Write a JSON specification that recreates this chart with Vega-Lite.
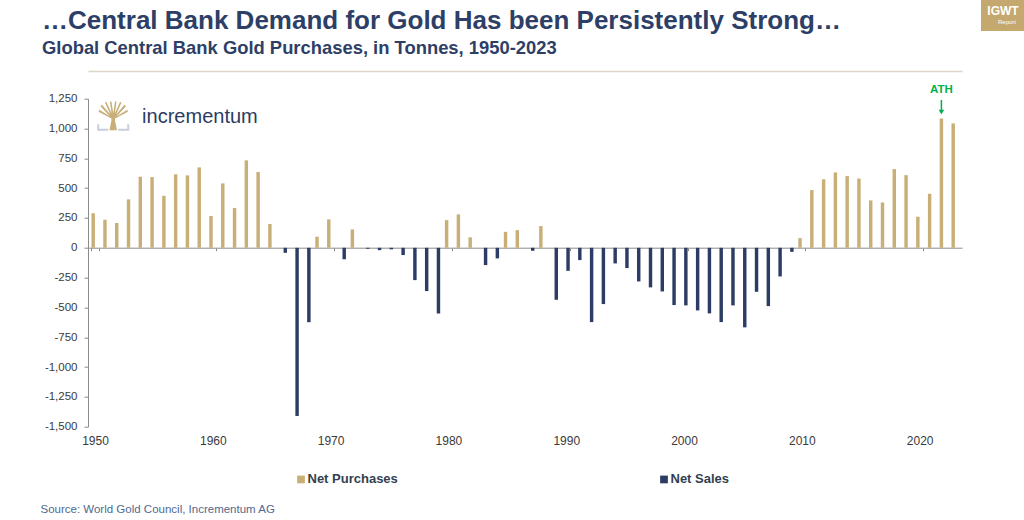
{
  "$schema": "https://vega.github.io/schema/vega-lite/v6.json",
  "width": 874,
  "height": 328,
  "autosize": "none",
  "padding": {"left": 88, "top": 98.7, "right": 62, "bottom": 93.3},
  "background": "white",
  "title": {
    "text": "…Central Bank Demand for Gold Has been Persistently Strong…",
    "subtitle": "Global Central Bank Gold Purchases, in Tonnes, 1950-2023",
    "anchor": "start",
    "frame": "group",
    "dx": -46,
    "dy": 71,
    "offset": 14,
    "font": "Liberation Sans",
    "fontSize": 26,
    "fontWeight": "bold",
    "color": "#2D3F66",
    "subtitleFont": "Liberation Sans",
    "subtitleFontSize": 18.4,
    "subtitleFontWeight": "bold",
    "subtitleColor": "#2D3F66",
    "subtitlePadding": 5
  },
  "config": {"view": {"stroke": null}, "axis": {"grid": false}},
  "datasets": {
    "gold": [
      {"year": 1950, "type": "Net Purchases", "value": 290},
      {"year": 1951, "type": "Net Purchases", "value": 235},
      {"year": 1952, "type": "Net Purchases", "value": 208},
      {"year": 1953, "type": "Net Purchases", "value": 406},
      {"year": 1954, "type": "Net Purchases", "value": 596},
      {"year": 1955, "type": "Net Purchases", "value": 593},
      {"year": 1956, "type": "Net Purchases", "value": 436},
      {"year": 1957, "type": "Net Purchases", "value": 616},
      {"year": 1958, "type": "Net Purchases", "value": 607},
      {"year": 1959, "type": "Net Purchases", "value": 674},
      {"year": 1960, "type": "Net Purchases", "value": 266},
      {"year": 1961, "type": "Net Purchases", "value": 540},
      {"year": 1962, "type": "Net Purchases", "value": 333},
      {"year": 1963, "type": "Net Purchases", "value": 733},
      {"year": 1964, "type": "Net Purchases", "value": 635},
      {"year": 1965, "type": "Net Purchases", "value": 199},
      {"year": 1966, "type": "Net Sales", "value": -42},
      {"year": 1967, "type": "Net Sales", "value": -1410},
      {"year": 1968, "type": "Net Sales", "value": -624},
      {"year": 1969, "type": "Net Purchases", "value": 93},
      {"year": 1970, "type": "Net Purchases", "value": 238},
      {"year": 1971, "type": "Net Sales", "value": -96},
      {"year": 1972, "type": "Net Purchases", "value": 154},
      {"year": 1973, "type": "Net Sales", "value": -8},
      {"year": 1974, "type": "Net Sales", "value": -20},
      {"year": 1975, "type": "Net Sales", "value": -13},
      {"year": 1976, "type": "Net Sales", "value": -61},
      {"year": 1977, "type": "Net Sales", "value": -271},
      {"year": 1978, "type": "Net Sales", "value": -363},
      {"year": 1979, "type": "Net Sales", "value": -551},
      {"year": 1980, "type": "Net Purchases", "value": 232},
      {"year": 1981, "type": "Net Purchases", "value": 280},
      {"year": 1982, "type": "Net Purchases", "value": 88},
      {"year": 1983, "type": "Net Sales", "value": -145},
      {"year": 1984, "type": "Net Sales", "value": -89},
      {"year": 1985, "type": "Net Purchases", "value": 134},
      {"year": 1986, "type": "Net Purchases", "value": 148},
      {"year": 1987, "type": "Net Sales", "value": -25},
      {"year": 1988, "type": "Net Purchases", "value": 182},
      {"year": 1989, "type": "Net Sales", "value": -436},
      {"year": 1990, "type": "Net Sales", "value": -193},
      {"year": 1991, "type": "Net Sales", "value": -103},
      {"year": 1992, "type": "Net Sales", "value": -623},
      {"year": 1993, "type": "Net Sales", "value": -472},
      {"year": 1994, "type": "Net Sales", "value": -131},
      {"year": 1995, "type": "Net Sales", "value": -170},
      {"year": 1996, "type": "Net Sales", "value": -282},
      {"year": 1997, "type": "Net Sales", "value": -332},
      {"year": 1998, "type": "Net Sales", "value": -366},
      {"year": 1999, "type": "Net Sales", "value": -480},
      {"year": 2000, "type": "Net Sales", "value": -483},
      {"year": 2001, "type": "Net Sales", "value": -525},
      {"year": 2002, "type": "Net Sales", "value": -550},
      {"year": 2003, "type": "Net Sales", "value": -623},
      {"year": 2004, "type": "Net Sales", "value": -483},
      {"year": 2005, "type": "Net Sales", "value": -667},
      {"year": 2006, "type": "Net Sales", "value": -369},
      {"year": 2007, "type": "Net Sales", "value": -489},
      {"year": 2008, "type": "Net Sales", "value": -240},
      {"year": 2009, "type": "Net Sales", "value": -34},
      {"year": 2010, "type": "Net Purchases", "value": 81},
      {"year": 2011, "type": "Net Purchases", "value": 484},
      {"year": 2012, "type": "Net Purchases", "value": 574},
      {"year": 2013, "type": "Net Purchases", "value": 632},
      {"year": 2014, "type": "Net Purchases", "value": 601},
      {"year": 2015, "type": "Net Purchases", "value": 581},
      {"year": 2016, "type": "Net Purchases", "value": 397},
      {"year": 2017, "type": "Net Purchases", "value": 380},
      {"year": 2018, "type": "Net Purchases", "value": 660},
      {"year": 2019, "type": "Net Purchases", "value": 609},
      {"year": 2020, "type": "Net Purchases", "value": 260},
      {"year": 2021, "type": "Net Purchases", "value": 453},
      {"year": 2022, "type": "Net Purchases", "value": 1084},
      {"year": 2023, "type": "Net Purchases", "value": 1043}
    ]
  },
  "layer": [
    {
      "data": {"name": "gold"},
      "mark": {"type": "bar"},
      "encoding": {
        "x": {
          "field": "year",
          "type": "ordinal",
          "scale": {"paddingInner": 0.4, "paddingOuter": 0.294},
          "axis": {
            "orient": "bottom",
            "offset": -179,
            "values": [1950, 1960, 1970, 1980, 1990, 2000, 2010, 2020],
            "labelAngle": 0,
            "tickBand": "extent",
            "tickSize": 3,
            "tickColor": "#8C8C8C",
            "domainColor": "#8C8C8C",
            "labelPadding": 185,
            "labelFont": "Liberation Sans",
            "labelFontSize": 12,
            "labelColor": "#3A3A3A",
            "title": "Source: World Gold Council, Incrementum AG",
            "titleX": -48,
            "titleY": 265,
            "titleAlign": "left",
            "titleAnchor": "start",
            "titleBaseline": "alphabetic",
            "titleFont": "Liberation Sans",
            "titleFontSize": 11.5,
            "titleFontWeight": "normal",
            "titleColor": "#50698F"
          }
        },
        "xOffset": {
          "field": "type",
          "type": "nominal",
          "scale": {"domain": ["Net Purchases", "Net Sales"], "paddingInner": 0.05}
        },
        "y": {
          "field": "value",
          "type": "quantitative",
          "scale": {"domain": [-1500, 1250], "nice": false},
          "axis": {
            "values": [-1500, -1250, -1000, -750, -500, -250, 0, 250, 500, 750, 1000, 1250],
            "labelExpr": "replace(format(datum.value, ',.0f'), '\u2212', '-')",
            "title": null,
            "tickSize": 4,
            "labelPadding": 7,
            "domainColor": "#8C8C8C",
            "tickColor": "#8C8C8C",
            "labelFont": "Liberation Sans",
            "labelFontSize": 11.5,
            "labelColor": "#3A3A3A"
          }
        },
        "color": {
          "field": "type",
          "type": "nominal",
          "scale": {"domain": ["Net Purchases", "Net Sales"], "range": ["#C8AF78", "#2C3C64"]},
          "legend": {
            "orient": "none",
            "legendX": 206.5,
            "legendY": 374,
            "direction": "horizontal",
            "title": null,
            "symbolType": "square",
            "symbolSize": 60,
            "symbolStrokeWidth": 0,
            "labelFont": "Liberation Sans",
            "labelFontSize": 13,
            "labelFontWeight": "bold",
            "labelColor": "#333F50",
            "labelOffset": 0,
            "columnPadding": 259,
            "padding": 0
          }
        }
      }
    },
    {
      "data": {"values": [{"year": 1954, "value": 1097, "label": "incrementum", "badge": "Report"}]},
      "mark": {"type": "text", "align": "left", "baseline": "middle", "font": "Liberation Sans", "fontSize": 20, "color": "#2B3C63"},
      "encoding": {
        "x": {
          "field": "year",
          "type": "ordinal",
          "axis": {"orient": "top", "offset": 27.7, "labels": false, "ticks": false, "domainColor": "#DDD5C5", "domainWidth": 1.5, "title": null}
        },
        "y": {"field": "value", "type": "quantitative", "axis": null},
        "text": {"field": "label"},
        "opacity": {
          "field": "badge",
          "type": "ordinal",
          "scale": {"range": [1, 1]},
          "legend": {
            "orient": "none",
            "legendX": 893,
            "legendY": -98.7,
            "title": "IGWT",
            "titleColor": "white",
            "titleFont": "Liberation Sans",
            "titleFontSize": 12,
            "titleFontWeight": "bold",
            "titleAnchor": "middle",
            "titlePadding": 1,
            "labelColor": "white",
            "labelFont": "Liberation Sans",
            "labelFontSize": 6,
            "labelOffset": 11,
            "labelAlign": "center",
            "symbolSize": 0,
            "symbolOpacity": 0,
            "symbolStrokeWidth": 0,
            "fillColor": "#C4A86E",
            "padding": 6
          }
        }
      }
    },
    {
      "data": {"values": [{"year": 1951, "value": 1105}]},
      "mark": {
        "type": "point",
        "filled": true,
        "size": 900,
        "opacity": 1,
        "color": "#C8AF78",
        "shape": "M 0.18 0.95 L 0.31 0.3 L 0.31 0.1 L 0.55 0.1 L 0.55 0.3 L 0.68 0.95 Z M 0.37 0.2 L -0.55 -0.28 L -0.49 -0.42 L 0.49 0.2 Z M 0.37 0.2 L -0.42 -0.65 L -0.32 -0.75 L 0.49 0.2 Z M 0.37 0.2 L -0.12 -0.9 L -0.02 -0.94 L 0.49 0.2 Z M 0.37 0.2 L 0.21 -0.97 L 0.31 -0.97 L 0.49 0.2 Z M 0.37 0.2 L 0.55 -0.97 L 0.65 -0.97 L 0.49 0.2 Z M 0.37 0.2 L 0.88 -0.94 L 0.98 -0.9 L 0.49 0.2 Z M 0.37 0.2 L 1.18 -0.75 L 1.28 -0.65 L 0.49 0.2 Z M 0.37 0.2 L 1.37 -0.42 L 1.41 -0.28 L 0.49 0.2 Z"
      },
      "encoding": {
        "x": {"field": "year", "type": "ordinal", "axis": null},
        "y": {"field": "value", "type": "quantitative", "axis": null}
      }
    },
    {
      "data": {"values": [{"year": 1951, "value": 1105}]},
      "mark": {
        "type": "point",
        "filled": false,
        "size": 900,
        "opacity": 1,
        "stroke": "#C5CFDF",
        "strokeWidth": 2,
        "shape": "M -0.57 0.55 L -0.57 0.92 L 0.1 0.92 M 0.76 0.92 L 1.43 0.92 L 1.43 0.55"
      },
      "encoding": {
        "x": {"field": "year", "type": "ordinal", "axis": null},
        "y": {"field": "value", "type": "quantitative", "axis": null}
      }
    },
    {
      "data": {"values": [{"year": 2022, "type": "Net Purchases", "value": 1323, "label": "ATH"}]},
      "mark": {"type": "text", "align": "center", "baseline": "middle", "font": "Liberation Sans", "fontSize": 11.5, "fontWeight": "bold", "color": "#00B050"},
      "encoding": {
        "x": {"field": "year", "type": "ordinal", "axis": null},
        "xOffset": {"field": "type", "type": "nominal"},
        "y": {"field": "value", "type": "quantitative", "axis": null},
        "text": {"field": "label"}
      }
    },
    {
      "data": {"values": [{"year": 2022, "type": "Net Purchases", "value": 1240, "value2": 1150}]},
      "mark": {"type": "rule", "color": "#00B050", "strokeWidth": 1.5},
      "encoding": {
        "x": {"field": "year", "type": "ordinal", "axis": null},
        "xOffset": {"field": "type", "type": "nominal"},
        "y": {"field": "value", "type": "quantitative", "axis": null},
        "y2": {"field": "value2"}
      }
    },
    {
      "data": {"values": [{"year": 2022, "type": "Net Purchases", "value": 1138}]},
      "mark": {"type": "point", "shape": "triangle-down", "filled": true, "size": 30, "opacity": 1, "color": "#00B050"},
      "encoding": {
        "x": {"field": "year", "type": "ordinal", "axis": null},
        "xOffset": {"field": "type", "type": "nominal"},
        "y": {"field": "value", "type": "quantitative", "axis": null}
      }
    }
  ],
  "resolve": {"axis": {"x": "independent", "y": "independent"}}
}
